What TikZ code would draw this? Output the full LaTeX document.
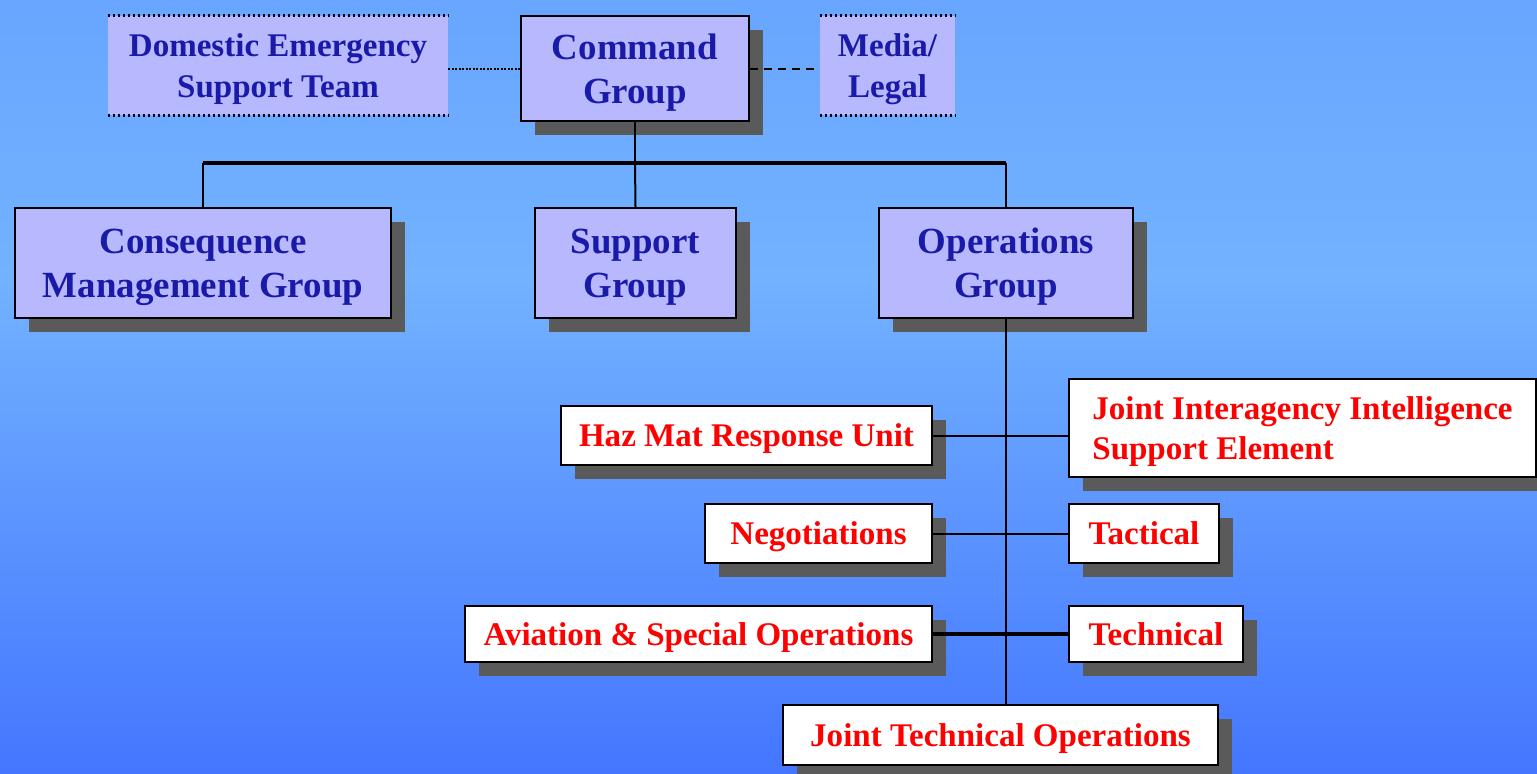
\documentclass[tikz,border=0pt]{standalone}
\usepackage{fontspec}
\setmainfont{Liberation Serif}
\usetikzlibrary{shadows}

\definecolor{grpfill}{RGB}{184,184,255}
\definecolor{grptext}{RGB}{26,26,168}
\definecolor{shadowgray}{RGB}{90,90,90}
\definecolor{bgtop}{RGB}{104,166,255}
\definecolor{bgmid}{RGB}{114,178,255}
\definecolor{bgbot}{RGB}{68,118,255}

\pgfdeclareverticalshading{bgsky}{100bp}{color(0bp)=(bgbot); color(25bp)=(bgbot); color(57bp)=(bgmid); color(75bp)=(bgtop); color(100bp)=(bgtop)}

\tikzset{
	boxshadow/.style={drop shadow={shadow xshift=0.28cm, shadow yshift=-0.28cm, fill=shadowgray, opacity=1}},
	grpbox/.style={draw=black, line width=0.04cm, fill=grpfill, text=grptext, align=center, inner sep=0pt, text depth=0pt, boxshadow, font=\bfseries\fontsize{21}{25}\selectfont},
	sidebox/.style={fill=grpfill, text=grptext, align=center, inner sep=0pt, text depth=0pt, font=\bfseries\fontsize{18.8}{22.8}\selectfont},
	redbox/.style={draw=black, line width=0.04cm, fill=white, text=red, align=center, inner sep=0pt, text depth=0pt, boxshadow, font=\bfseries\fontsize{18.8}{22.8}\selectfont},
	link/.style={line width=0.04cm},
	thicklink/.style={line width=0.08cm},
	dotline/.style={line width=0.05cm, dash pattern=on 0.05cm off 0.05cm},
}

\begin{document}
\begin{tikzpicture}
	\shade[shading=bgsky] (0,0) rectangle (30.74,-15.46);
	\useasboundingbox (0,0) rectangle (30.74,-15.46);

	\node[grpbox, minimum width=4.56cm, minimum height=2.1cm] (cmd) at (12.7,-1.37) {Command\\Group};
	\node[sidebox, minimum width=6.8cm, minimum height=1.98cm] (dest) at (5.56,-1.31) {Domestic Emergency\\Support Team};
	\node[sidebox, minimum width=2.7cm, minimum height=1.98cm] (media) at (17.75,-1.31) {Media/\\Legal};
	\draw[dotline] (dest.north west) -- (dest.north east);
	\draw[dotline] (dest.south west) -- (dest.south east);
	\draw[dotline] (media.north west) -- (media.north east);
	\draw[dotline] (media.south west) -- (media.south east);

	\node[grpbox, minimum width=7.52cm, minimum height=2.2cm] (cmg) at (4.06,-5.26) {Consequence\\Management Group};
	\node[grpbox, minimum width=4.02cm, minimum height=2.2cm] (sup) at (12.71,-5.26) {Support\\Group};
	\node[grpbox, minimum width=5.08cm, minimum height=2.2cm] (ops) at (20.12,-5.26) {Operations\\Group};

	\node[redbox, anchor=east, minimum width=7.42cm, minimum height=1.18cm] (haz) at (18.66,-8.71) {Haz Mat Response Unit};
	\node[redbox, anchor=east, minimum width=4.54cm, minimum height=1.18cm] (neg) at (18.66,-10.67) {Negotiations};
	\node[redbox, anchor=east, minimum width=9.34cm, minimum height=1.12cm] (avi) at (18.66,-12.68) {Aviation \& Special Operations};
	\node[redbox, anchor=west, minimum width=9.34cm, minimum height=1.96cm, align=left] (jiise) at (21.36,-8.56) {Joint Interagency Intelligence\\Support Element};
	\node[redbox, anchor=west, minimum width=3.0cm, minimum height=1.18cm] (tac) at (21.36,-10.67) {Tactical};
	\node[redbox, anchor=west, minimum width=3.48cm, minimum height=1.12cm] (tech) at (21.36,-12.68) {Technical};
	\node[redbox, minimum width=8.7cm, minimum height=1.2cm] (jto) at (20.01,-14.7) {Joint Technical Operations};

	\coordinate (bus) at (12.7,-3.26);
	\draw[link, dash pattern=on 0.04cm off 0.03cm] (cmd.west) -- (cmd.west -| dest.east);
	\draw[link, dash pattern=on 0.16cm off 0.12cm] (cmd.east) -- (cmd.east -| media.west);
	\draw[link] (cmd.south) -- (bus);
	\draw[thicklink] (cmg.north |- bus) -- (ops.north |- bus);
	\draw[link] (cmg.north |- bus) -- (cmg.north);
	\draw[link] (bus) -- (sup.north);
	\draw[link] (ops.north |- bus) -- (ops.north);
	\draw[link] (ops.south) -- (ops.south |- jto.north);
	\draw[link] (haz.east) -- (haz.east -| jiise.west);
	\draw[link] (neg.east) -- (neg.east -| tac.west);
	\draw[thicklink] (avi.east) -- (avi.east -| tech.west);
\end{tikzpicture}
\end{document}
